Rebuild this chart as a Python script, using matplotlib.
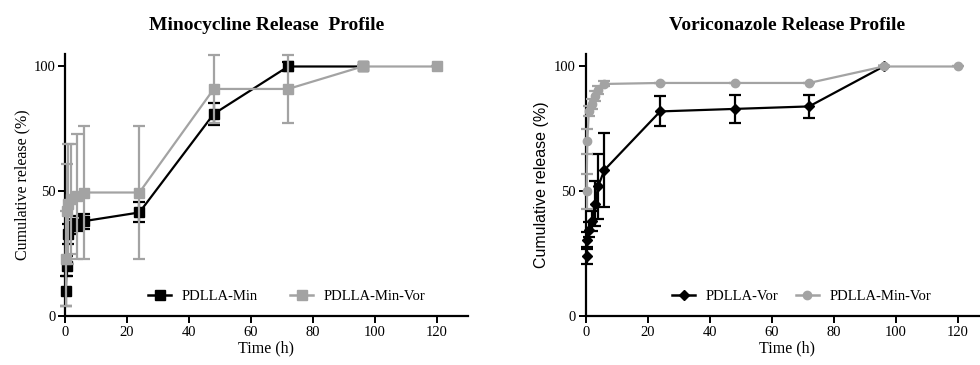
import matplotlib
matplotlib.use("Agg")
import matplotlib.pyplot as plt
from matplotlib.lines import Line2D

# Minocycline release (left panel)
t_min = [0.25, 0.5, 1, 2, 4, 6, 24, 48, 72, 96]
min_pdlla = [10, 20, 33, 36, 37, 38, 41.5, 81, 100, 100]
min_pdlla_err = [6, 4, 4, 3, 3, 3, 4, 4.5, 2, 0]

t_minvor = [0.25, 0.5, 1, 2, 4, 6, 24, 48, 72, 96, 120]
min_minvor = [23, 42, 45, 47, 48, 49.5, 49.5, 91, 91, 100, 100]
min_minvor_err = [19, 19, 24, 22, 25, 26.5, 26.5, 13.5, 13.5, 0, 0]

# Voriconazole release (right panel)
t_vor = [0.25, 0.5, 1, 2, 3, 4, 6, 24, 48, 72, 96]
vor_pdlla = [24, 30.5, 34.5, 38, 45, 52, 58.5, 82, 83, 84, 100]
vor_pdlla_err = [3, 3, 3, 4, 9, 13, 15, 6, 5.7, 4.5, 0]

t_vor2 = [0.25, 0.5, 1, 2, 3, 4, 6, 24, 48, 72, 96, 120]
vor_minvor = [50, 70, 82, 85, 88, 90.5, 93, 93.4, 93.4, 93.4, 100, 100]
vor_minvor_err = [7, 5, 2, 2, 2, 1.5, 1, 0, 0, 0, 0, 0]

grey = "#a3a3a3"
serif = "Liberation Serif"
sans = "Liberation Sans"

fig = plt.figure(figsize=(9.8, 3.65), dpi=100)
ax1 = fig.add_axes([0.0663, 0.1342, 0.4112, 0.7178])
ax2 = fig.add_axes([0.5977, 0.1342, 0.4115, 0.7178])


def style(ax):
    ax.set_xlim(0, 130)
    ax.set_ylim(0, 105)
    ax.spines["top"].set_visible(False)
    ax.spines["right"].set_visible(False)
    for s in ("left", "bottom"):
        ax.spines[s].set_linewidth(1.6)
    ax.set_xticks([0, 20, 40, 60, 80, 100, 120])
    ax.set_yticks([0, 50, 100])
    ax.tick_params(direction="out", length=5, width=1.4, labelsize=10.5, pad=2)
    for lab in ax.get_xticklabels() + ax.get_yticklabels():
        lab.set_family(serif)
    ax.set_xlabel("Time (h)", family=serif, fontsize=11.5, labelpad=1)


def handle(color, marker, ms):
    return Line2D([], [], color=color, marker=marker, markersize=ms, lw=1.8)


# left panel
ax1.errorbar(t_min, min_pdlla, yerr=min_pdlla_err, color="black", marker="s",
             markersize=6.5, lw=1.6, elinewidth=1.6, capsize=4, capthick=1.6,
             clip_on=False, zorder=3)
ax1.errorbar(t_minvor, min_minvor, yerr=min_minvor_err, color=grey, marker="s",
             markersize=6.5, lw=1.6, elinewidth=1.6, capsize=4, capthick=1.6,
             clip_on=False, zorder=4)
style(ax1)
ax1.set_ylabel("Cumulative release (%)", family=serif, fontsize=11.5, labelpad=2)
ax1.set_title("Minocycline Release  Profile", family=serif, fontweight="bold",
              fontsize=14, pad=17)
ax1.legend([handle("black", "s", 6.5), handle(grey, "s", 6.5)],
           ["PDLLA-Min", "PDLLA-Min-Vor"],
           loc="center", bbox_to_anchor=(0.55, 0.074), ncol=2, frameon=False,
           prop={"family": serif, "size": 10.5}, handlelength=1.6,
           columnspacing=2.2, handletextpad=0.7)

# right panel
ax2.errorbar(t_vor, vor_pdlla, yerr=vor_pdlla_err, color="black", marker="D",
             markersize=5, lw=1.6, elinewidth=1.6, capsize=4, capthick=1.6,
             clip_on=False, zorder=3)
ax2.errorbar(t_vor2, vor_minvor, yerr=vor_minvor_err, color=grey, marker="o",
             markersize=6, lw=1.6, elinewidth=1.6, capsize=4, capthick=1.6,
             clip_on=False, zorder=4)
style(ax2)
ax2.set_ylabel("Cumulative release (%)", family=sans, fontsize=11.5, labelpad=4)
ax2.set_title("Voriconazole Release Profile", family=serif, fontweight="bold",
              fontsize=14, pad=17)
ax2.legend([handle("black", "D", 5), handle(grey, "o", 6)],
           ["PDLLA-Vor", "PDLLA-Min-Vor"],
           loc="center", bbox_to_anchor=(0.535, 0.074), ncol=2, frameon=False,
           prop={"family": serif, "size": 10.5}, handlelength=1.6,
           columnspacing=1.2, handletextpad=0.7)

fig.savefig("out.png", dpi=100)
